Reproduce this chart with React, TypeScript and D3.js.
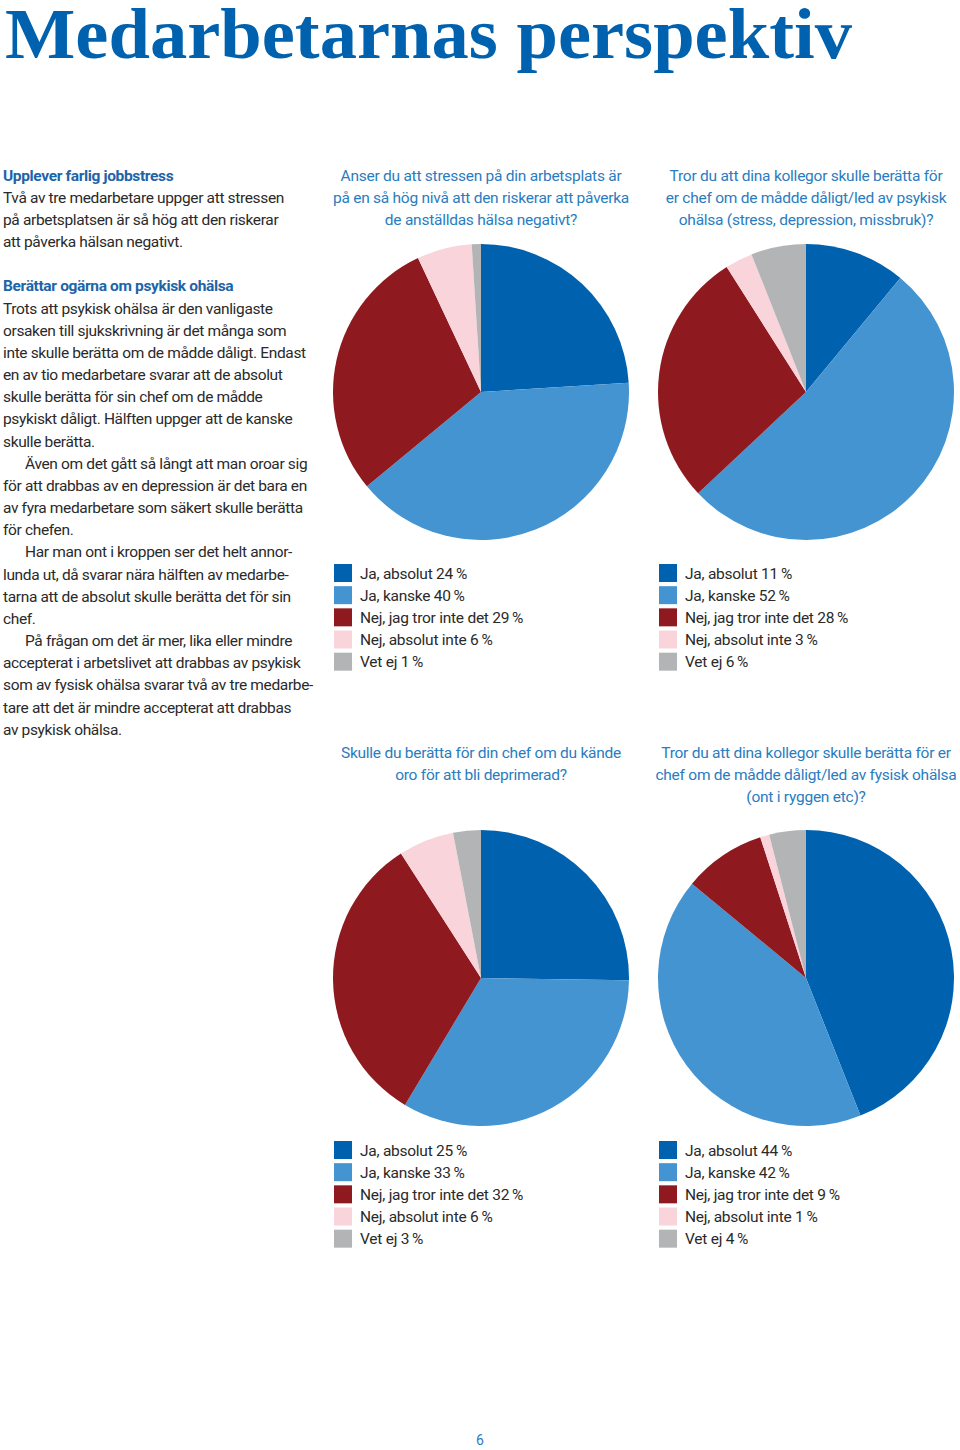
import { useEffect, useRef } from "react";
import * as d3 from "d3";

const categories = ["Ja, absolut", "Ja, kanske", "Nej, jag tror inte det", "Nej, absolut inte", "Vet ej"];
const colors = ["#0062ae", "#4494d2", "#8e1a1f", "#f9d4db", "#b3b4b6"];

const stressValues = [24, 40, 29, 6, 1];
const psykiskValues = [11, 52, 28, 3, 6];
const depressionValues = [25, 33, 32, 6, 3];
const fysiskValues = [44, 42, 9, 1, 4];

const stressQuestion = [
  "Anser du att stressen på din arbetsplats är",
  "på en så hög nivå att den riskerar att påverka",
  "de anställdas hälsa negativt?",
];
const psykiskQuestion = [
  "Tror du att dina kollegor skulle berätta för",
  "er chef om de mådde dåligt/led av psykisk",
  "ohälsa (stress, depression, missbruk)?",
];
const depressionQuestion = [
  "Skulle du berätta för din chef om du kände",
  "oro för att bli deprimerad?",
];
const fysiskQuestion = [
  "Tror du att dina kollegor skulle berätta för er",
  "chef om de mådde dåligt/led av fysisk ohälsa",
  "(ont i ryggen etc)?",
];

// [text, kind] kind: h = heading, i = indented, "" = plain, b = blank
const bodyLines: [string, string][] = [
  ["Upplever farlig jobbstress", "h"],
  ["Två av tre medarbetare uppger att stressen", ""],
  ["på arbetsplatsen är så hög att den riskerar", ""],
  ["att påverka hälsan negativt.", ""],
  ["", "b"],
  ["Berättar ogärna om psykisk ohälsa", "h"],
  ["Trots att psykisk ohälsa är den vanligaste", ""],
  ["orsaken till sjukskrivning är det många som", ""],
  ["inte skulle berätta om de mådde dåligt. Endast", ""],
  ["en av tio medarbetare svarar att de absolut", ""],
  ["skulle berätta för sin chef om de mådde", ""],
  ["psykiskt dåligt. Hälften uppger att de kanske", ""],
  ["skulle berätta.", ""],
  ["Även om det gått så långt att man oroar sig", "i"],
  ["för att drabbas av en depression är det bara en", ""],
  ["av fyra medarbetare som säkert skulle berätta", ""],
  ["för chefen.", ""],
  ["Har man ont i kroppen ser det helt annor-", "i"],
  ["lunda ut, då svarar nära hälften av medarbe-", ""],
  ["tarna att de absolut skulle berätta det för sin", ""],
  ["chef.", ""],
  ["På frågan om det är mer, lika eller mindre", "i"],
  ["accepterat i arbetslivet att drabbas av psykisk", ""],
  ["som av fysisk ohälsa svarar två av tre medarbe-", ""],
  ["tare att det är mindre accepterat att drabbas", ""],
  ["av psykisk ohälsa.", ""],
];

const W = 960;
const H = 1450;
const FONT = "Roboto, 'Noto Sans', sans-serif";
const LINE = 22.17;
const TRACK = -0.25;

export default function App() {
  const svgRef = useRef<SVGSVGElement | null>(null);

  useEffect(() => {
    const svg = d3.select(svgRef.current);
    svg.selectAll("*").remove();

    svg
      .append("text")
      .attr("x", 5)
      .attr("y", 58)
      .attr("font-family", "'Liberation Serif', serif")
      .attr("font-weight", "bold")
      .attr("font-size", 71)
      .attr("fill", "#0062ae")
      .attr("textLength", 847)
      .attr("lengthAdjust", "spacingAndGlyphs")
      .text("Medarbetarnas perspektiv");

    // left column
    const body = svg
      .append("g")
      .attr("font-family", FONT)
      .attr("font-size", 15.5)
      .attr("letter-spacing", -0.35);
    bodyLines.forEach(([t, kind], i) => {
      if (kind === "b") return;
      body
        .append("text")
        .attr("x", kind === "i" ? 25 : 3)
        .attr("y", 175 + i * LINE + 5.5)
        .attr("fill", kind === "h" ? "#1d64a8" : "#2a2a2a")
        .attr("font-weight", kind === "h" ? "bold" : "normal")
        .text(t);
    });

    const pie = d3
      .pie<number>()
      .sort(null)
      .value((d) => d);
    const r = 148;
    const arc = d3.arc<d3.PieArcDatum<number>>().innerRadius(0).outerRadius(r);

    const panels = [
      { cx: 481, qy: 175, py: 392, ly: 573, values: stressValues, q: stressQuestion },
      { cx: 806, qy: 175, py: 392, ly: 573, values: psykiskValues, q: psykiskQuestion },
      { cx: 481, qy: 752, py: 978, ly: 1150, values: depressionValues, q: depressionQuestion },
      { cx: 806, qy: 752, py: 978, ly: 1150, values: fysiskValues, q: fysiskQuestion },
    ];

    panels.forEach((p) => {
      const g = svg.append("g");
      g.selectAll("text.q")
        .data(p.q)
        .join("text")
        .attr("class", "q")
        .attr("x", p.cx)
        .attr("y", (_, i) => p.qy + i * LINE + 5.5)
        .attr("text-anchor", "middle")
        .attr("font-family", FONT)
        .attr("font-size", 15.5)
        .attr("letter-spacing", TRACK)
        .attr("fill", "#2a7cc0")
        .text((d) => d);

      g.append("g")
        .attr("transform", `translate(${p.cx},${p.py})`)
        .selectAll("path")
        .data(pie(p.values))
        .join("path")
        .attr("d", arc)
        .attr("fill", (_, i) => colors[i]);

      const lx = p.cx - 147;
      const leg = g
        .append("g")
        .selectAll("g")
        .data(categories)
        .join("g")
        .attr("transform", (_, i) => `translate(${lx},${p.ly + i * LINE})`);
      leg
        .append("rect")
        .attr("x", 0)
        .attr("y", -9)
        .attr("width", 18)
        .attr("height", 18)
        .attr("fill", (_, i) => colors[i]);
      leg
        .append("text")
        .attr("x", 26)
        .attr("y", 5.5)
        .attr("font-family", FONT)
        .attr("font-size", 15.5)
        .attr("letter-spacing", TRACK)
        .attr("fill", "#2a2a2a")
        .text((d, i) => `${d} ${p.values[i]}\u2009%`);
    });

    svg
      .append("text")
      .attr("x", 480)
      .attr("y", 1445)
      .attr("text-anchor", "middle")
      .attr("font-family", FONT)
      .attr("font-size", 14)
      .attr("fill", "#2a7cc0")
      .text("6");
  }, []);

  return (
    <div style={{ position: "absolute", left: 0, top: 0 }}>
      <svg ref={svgRef} width={W} height={H} style={{ display: "block", background: "#fff" }}></svg>
    </div>
  );
}
